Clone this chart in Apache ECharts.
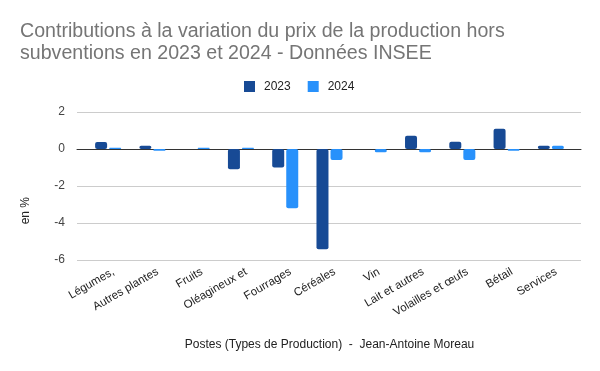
<!DOCTYPE html>
<html>
<head>
<meta charset="utf-8">
<script src="https://cdn.jsdelivr.net/npm/echarts@6/dist/echarts.min.js"></script>
<style>html,body{margin:0;padding:0;background:#fff}#c{width:600px;height:371px}</style>
</head>
<body>
<div id="c"></div>
<script>
const categories = ["Légumes,", "Autres plantes", "Fruits", "Oléagineux et", "Fourrages", "Céréales", "Vin", "Lait et autres", "Volailles et œufs", "Bétail", "Services"];
const values2023 = [0.38, 0.18, 0, -1.1, -1.0, -5.42, 0, 0.72, 0.39, 1.1, 0.18];
const values2024 = [0.07, -0.1, 0.07, 0.07, -3.2, -0.6, -0.18, -0.18, -0.6, -0.09, 0.17];
const seriesNames = ["2023", "2024"];
const yTicks = { min: -6, max: 2, interval: 2 };
const titleText = "Contributions à la variation du prix de la production hors\nsubventions en 2023 et 2024 - Données INSEE";
const xTitle = "Postes (Types de Production)  -  Jean-Antoine Moreau";
const yTitle = "en %";

const chart = echarts.init(document.getElementById('c'), null, { renderer: 'canvas' });
const axisFont = 'Arial, "Liberation Sans", sans-serif';
chart.setOption({
  animation: false,
  title: {
    text: titleText, left: 15, top: 16,
    textStyle: { fontFamily: axisFont, fontSize: 19.6, fontWeight: 'normal', color: '#757575', lineHeight: 22 }
  },
  legend: {
    data: seriesNames, left: 239, top: 75.5, itemWidth: 11, itemHeight: 11, itemGap: 17,
    icon: 'rect',
    textStyle: { fontFamily: axisFont, fontSize: 12, color: '#222', padding: [0, 0, 0, 4] }
  },
  grid: [
    { left: 77, right: 19, top: 112, bottom: 111 },
    { left: 86, right: 27, top: 112, bottom: 111 }
  ],
  xAxis: [
    { gridIndex: 0, type: 'value', min: 0, max: 1, axisLine: { show: true, onZero: true, lineStyle: { color: '#333', width: 1 } },
      axisTick: { show: false }, axisLabel: { show: false }, splitLine: { show: false } },
    { gridIndex: 1, type: 'category', data: categories,
      axisLine: { show: false, onZero: false }, axisTick: { show: false },
      axisLabel: { rotate: 30, margin: 14, interval: 0, padding: [0, -6, 0, 0], fontFamily: axisFont, fontSize: 11.5, color: '#222' },
      name: xTitle, nameLocation: 'middle', nameGap: 79,
      nameTextStyle: { fontFamily: axisFont, fontSize: 12, color: '#222' } }
  ],
  yAxis: [
    { gridIndex: 0, type: 'value', min: yTicks.min, max: yTicks.max, interval: yTicks.interval,
      axisLine: { show: false }, axisTick: { show: false },
      axisLabel: { margin: 12, fontFamily: axisFont, fontSize: 12, color: '#444' },
      splitLine: { lineStyle: { color: '#ccc', width: 1 } } },
    { gridIndex: 1, type: 'value', min: yTicks.min, max: yTicks.max, interval: yTicks.interval,
      show: false, splitLine: { show: false } }
  ],
  graphic: [
    { type: 'text', left: 20, top: 197, rotation: Math.PI / 2,
      style: { text: yTitle, fontFamily: axisFont, fontSize: 12, fill: '#222' } }
  ],
  series: [
    { name: seriesNames[0], type: 'bar', xAxisIndex: 1, yAxisIndex: 1, data: values2023,
      barWidth: 12, barGap: '17%', itemStyle: { color: '#174a95', borderRadius: 2 }, z: 1 },
    { name: seriesNames[1], type: 'bar', xAxisIndex: 1, yAxisIndex: 1, data: values2024,
      barWidth: 12, barGap: '17%', itemStyle: { color: '#2891fb', borderRadius: 2 }, z: 1 }
  ]
});
</script>
</body>
</html>
